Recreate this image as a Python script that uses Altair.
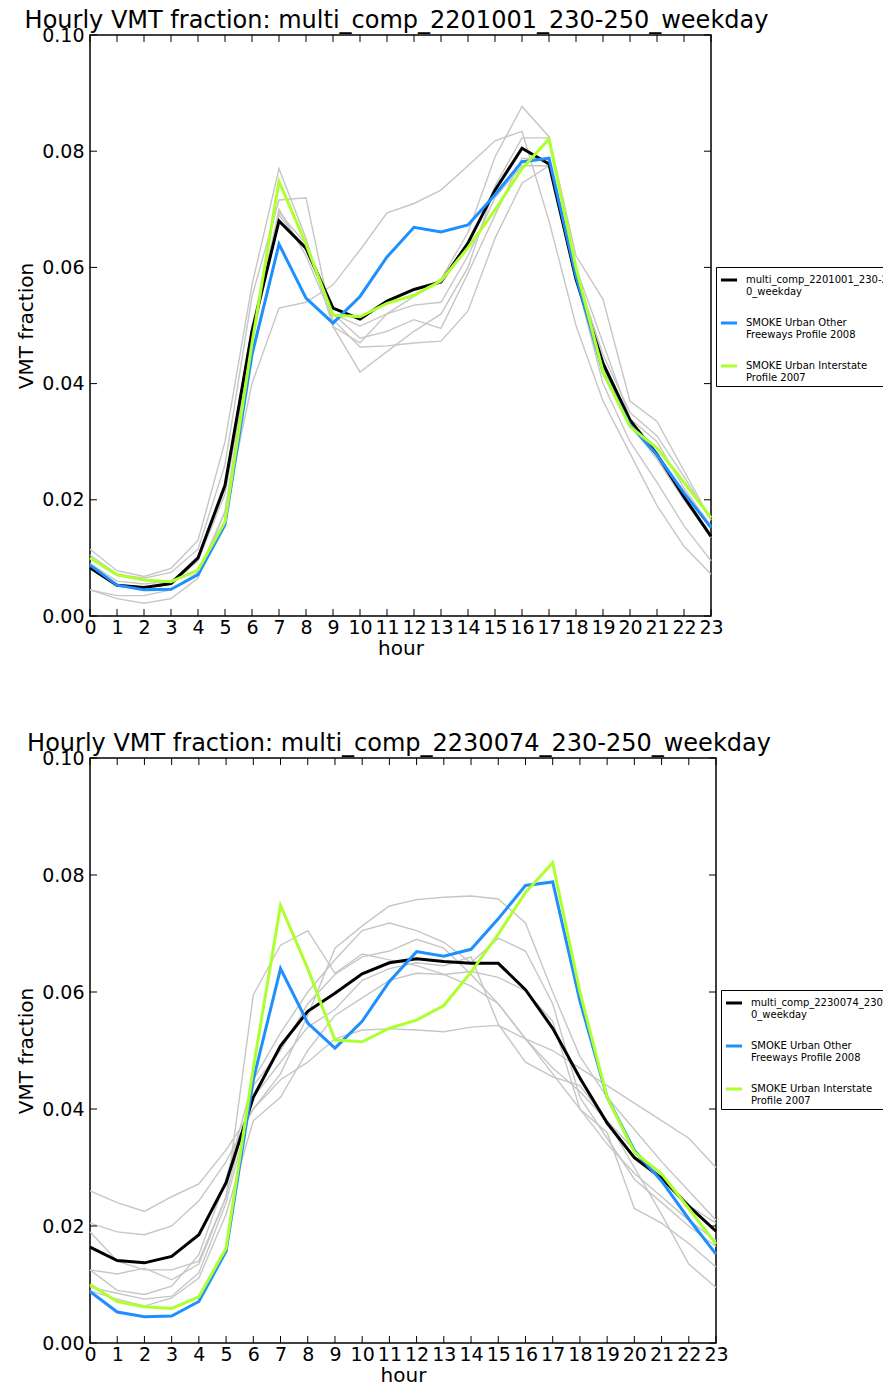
import altair as alt
import pandas as pd

HOURS = list(range(24))
Y_TICKS = [0.0, 0.02, 0.04, 0.06, 0.08, 0.10]

SMOKE_FREEWAY = [0.0088, 0.0053, 0.0045, 0.0046, 0.0071, 0.0157, 0.045, 0.064, 0.0547, 0.0504, 0.055, 0.0618,
                 0.0669, 0.0661, 0.0673, 0.0725, 0.0782, 0.0788, 0.0585, 0.0420, 0.0329, 0.0277, 0.0212, 0.0152]
SMOKE_INTERSTATE = [0.0100, 0.0071, 0.0062, 0.0059, 0.0079, 0.0162, 0.047, 0.0748, 0.064, 0.0518, 0.0515, 0.0538,
                    0.0552, 0.0577, 0.0634, 0.0699, 0.0770, 0.0821, 0.0600, 0.0420, 0.0326, 0.0289, 0.0230, 0.0169]

TOP_TITLE = "Hourly VMT fraction: multi_comp_2201001_230-250_weekday"
TOP_LABELS = ["multi_comp_2201001_230-25|0_weekday", "SMOKE Urban Other|Freeways Profile 2008",
              "SMOKE Urban Interstate|Profile 2007"]
TOP_MAIN = [0.0083, 0.0053, 0.0049, 0.0056, 0.0100, 0.0225, 0.049, 0.068, 0.0633, 0.053, 0.0511, 0.0542,
            0.0562, 0.0575, 0.0642, 0.0733, 0.0805, 0.0778, 0.058, 0.0435, 0.0337, 0.0278, 0.0205, 0.0137]
TOP_GRAY = [
    [0.0115, 0.0078, 0.0068, 0.0082, 0.013, 0.030, 0.057, 0.077, 0.065, 0.0498, 0.047, 0.052,
     0.055, 0.058, 0.066, 0.079, 0.0877, 0.0825, 0.062, 0.0545, 0.037, 0.0335, 0.025, 0.0165],
    [0.0105, 0.0072, 0.0065, 0.0075, 0.0115, 0.026, 0.055, 0.0716, 0.072, 0.0498, 0.042, 0.0455,
     0.049, 0.052, 0.060, 0.074, 0.0823, 0.0823, 0.060, 0.047, 0.034, 0.030, 0.022, 0.0155],
    [0.0045, 0.0035, 0.0035, 0.0045, 0.0075, 0.018, 0.040, 0.053, 0.054, 0.057, 0.063, 0.0694,
     0.071, 0.0733, 0.0775, 0.0818, 0.0834, 0.068, 0.050, 0.037, 0.028, 0.019, 0.012, 0.0072],
    [0.0045, 0.003, 0.0022, 0.003, 0.0065, 0.018, 0.048, 0.070, 0.062, 0.051, 0.0463, 0.0465,
     0.047, 0.0473, 0.0525, 0.065, 0.0745, 0.0775, 0.058, 0.040, 0.030, 0.023, 0.0155, 0.0095],
    [0.009, 0.006, 0.0055, 0.006, 0.0095, 0.022, 0.050, 0.069, 0.063, 0.052, 0.0478, 0.049,
     0.051, 0.0495, 0.059, 0.069, 0.0788, 0.0785, 0.059, 0.045, 0.035, 0.031, 0.024, 0.0165],
    [0.0085, 0.0055, 0.0048, 0.0055, 0.0095, 0.021, 0.047, 0.0695, 0.064, 0.052, 0.0499, 0.052,
     0.0535, 0.054, 0.062, 0.072, 0.0775, 0.0775, 0.058, 0.043, 0.033, 0.027, 0.020, 0.0135],
]

BOT_TITLE = "Hourly VMT fraction: multi_comp_2230074_230-250_weekday"
BOT_LABELS = ["multi_comp_2230074_230-25|0_weekday", "SMOKE Urban Other|Freeways Profile 2008",
              "SMOKE Urban Interstate|Profile 2007"]
BOT_MAIN = [0.0164, 0.0141, 0.0137, 0.0148, 0.0185, 0.0274, 0.042, 0.0508, 0.0567, 0.0598, 0.0631, 0.065,
            0.0657, 0.0652, 0.0649, 0.0649, 0.0604, 0.0538, 0.0453, 0.0376, 0.0317, 0.0282, 0.0234, 0.0191]
BOT_GRAY = [
    [0.026, 0.024, 0.0225, 0.025, 0.0272, 0.033, 0.040, 0.045, 0.048, 0.052, 0.0535, 0.0537,
     0.0535, 0.0532, 0.054, 0.0543, 0.052, 0.050, 0.047, 0.044, 0.041, 0.038, 0.035, 0.030],
    [0.0205, 0.019, 0.0185, 0.020, 0.0243, 0.031, 0.040, 0.046, 0.056, 0.0675, 0.0713, 0.0747,
     0.0758, 0.0762, 0.0764, 0.0759, 0.0718, 0.060, 0.049, 0.042, 0.0365, 0.031, 0.026, 0.021],
    [0.0125, 0.0118, 0.0128, 0.0108, 0.0135, 0.025, 0.0595, 0.068, 0.0705, 0.0632, 0.0665, 0.0655,
     0.0645, 0.063, 0.061, 0.058, 0.052, 0.046, 0.040, 0.036, 0.023, 0.0205, 0.017, 0.013],
    [0.0125, 0.009, 0.0083, 0.0097, 0.0151, 0.028, 0.045, 0.053, 0.060, 0.0655, 0.0705, 0.0718,
     0.0705, 0.0685, 0.065, 0.0692, 0.067, 0.058, 0.042, 0.035, 0.028, 0.024, 0.020, 0.0165],
    [0.0089, 0.0075, 0.0063, 0.0077, 0.0111, 0.022, 0.038, 0.042, 0.050, 0.056, 0.059, 0.062,
     0.0632, 0.063, 0.0635, 0.0625, 0.0602, 0.055, 0.040, 0.034, 0.029, 0.025, 0.021, 0.0175],
    [0.019, 0.014, 0.0125, 0.0125, 0.014, 0.025, 0.044, 0.050, 0.058, 0.063, 0.066, 0.067,
     0.069, 0.0675, 0.063, 0.058, 0.052, 0.047, 0.043, 0.038, 0.033, 0.028, 0.0235, 0.0205],
    [0.0095, 0.0085, 0.0075, 0.008, 0.012, 0.024, 0.042, 0.048, 0.054, 0.057, 0.062, 0.064,
     0.065, 0.0645, 0.066, 0.0545, 0.048, 0.0455, 0.044, 0.038, 0.030, 0.022, 0.0135, 0.0095],
]

COLORS = ["#000000", "#1e8fff", "#adff2f"]
GRAY = "#c6c6c6"
FONT = "DejaVu Sans"


def xenc(field="hour"):
    return alt.X(f"{field}:Q", scale=alt.Scale(domain=[0, 23], nice=False, zero=False),
                 axis=alt.Axis(values=HOURS, title="hour", format="d", labelPadding=2,
                               titlePadding=1, labelOverlap=False, labelFlush=False))


def yenc(field="value"):
    return alt.Y(f"{field}:Q", scale=alt.Scale(domain=[0, 0.1], nice=False),
                 axis=alt.Axis(values=Y_TICKS, format=".2f", title="VMT fraction",
                               labelPadding=6, titlePadding=5, labelOverlap=False, labelFlush=False))


def panel(title, labels, main, grays, width, height):
    grows = []
    for i, g in enumerate(grays):
        for h, v in zip(HOURS, g):
            grows.append({"hour": h, "value": v, "run": i})
    gdf = pd.DataFrame(grows)
    mrows = []
    for name, series in zip(labels, [main, SMOKE_FREEWAY, SMOKE_INTERSTATE]):
        for h, v in zip(HOURS, series):
            mrows.append({"hour": h, "value": v, "series": name})
    mdf = pd.DataFrame(mrows)

    color = alt.Color("series:N", scale=alt.Scale(domain=labels, range=COLORS),
                      legend=alt.Legend(orient="none", legendX=width + 5, legendY=232,
                                        title=None, symbolType="stroke", symbolStrokeWidth=3,
                                        symbolSize=260, labelFont=FONT, labelFontSize=10,
                                        labelLimit=400, labelOffset=7, rowPadding=16,
                                        padding=3, strokeColor="black", fillColor="white",
                                        labelExpr="split(datum.label, '|')"))

    gray_layer = alt.Chart(gdf).mark_line(color=GRAY, strokeWidth=1.4).encode(
        x=xenc(), y=yenc(), detail="run:N")
    layers = [gray_layer]
    for name in labels:
        layers.append(alt.Chart(mdf).transform_filter(alt.datum.series == name)
                      .mark_line(strokeWidth=3).encode(x=xenc(), y=yenc(), color=color))

    hdf = pd.DataFrame({"hour": HOURS})
    ydf = pd.DataFrame({"tick": Y_TICKS})
    tick_bot = alt.Chart(hdf).mark_rule(color="black").encode(
        x=xenc(), y=alt.value(height), y2=alt.value(height - 7))
    tick_top = alt.Chart(hdf).mark_rule(color="black").encode(
        x=xenc(), y=alt.value(0), y2=alt.value(7))
    tick_left = alt.Chart(ydf).mark_rule(color="black").encode(
        y=yenc("tick"), x=alt.value(0), x2=alt.value(7))
    tick_right = alt.Chart(ydf).mark_rule(color="black").encode(
        y=yenc("tick"), x=alt.value(width), x2=alt.value(width - 7))
    layers += [tick_bot, tick_top, tick_left, tick_right]

    return alt.layer(*layers).properties(
        width=width, height=height,
        title=alt.TitleParams(title, frame="group", anchor="middle", offset=-7, dx=-4))


top = panel(TOP_TITLE, TOP_LABELS, TOP_MAIN, TOP_GRAY, 621, 581)
bot = panel(BOT_TITLE, BOT_LABELS, BOT_MAIN, BOT_GRAY, 626, 585)

chart = alt.vconcat(top, bot, spacing=72).resolve_scale(color="independent").properties(
    padding={"left": 7, "top": 0, "right": -22, "bottom": -3}
).configure_view(stroke="black", strokeWidth=1.5).configure_axis(
    labelFont=FONT, titleFont=FONT, labelColor="black", titleColor="black", grid=False,
    ticks=False, domain=False, labelFontSize=19, titleFontSize=20, titleFontWeight="normal"
).configure_title(font=FONT, fontSize=24, fontWeight="normal", color="black")

chart.save("out.html", embed_options={"renderer": "svg", "actions": False})
